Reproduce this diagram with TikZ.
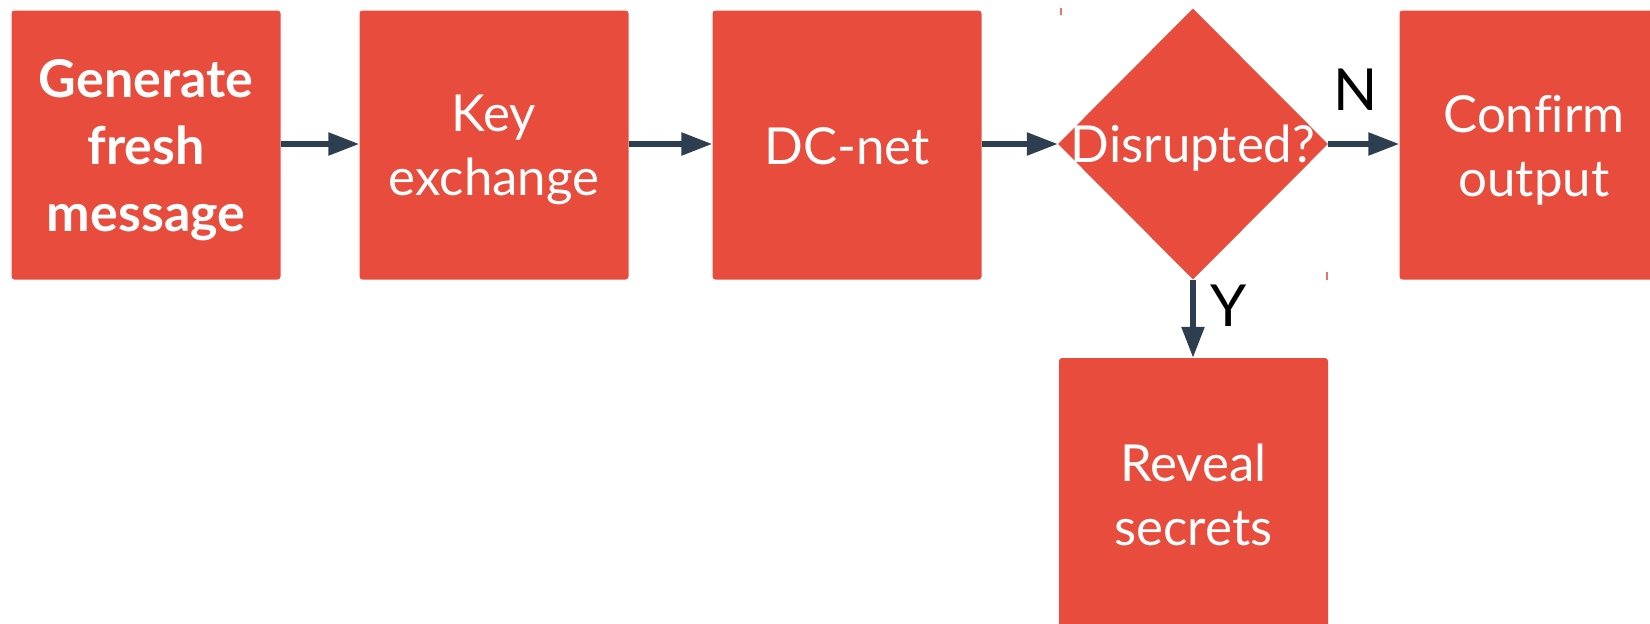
\documentclass[tikz,border=0pt]{standalone}
\usepackage{fontspec}
\setmainfont{Lato}[Ligatures=NoCommon]
\usetikzlibrary{shapes.geometric,arrows.meta}
\definecolor{boxred}{HTML}{E74C3C}
\definecolor{arrowblue}{HTML}{2C3E50}
\tikzset{
  stepbox/.style={fill=boxred, draw=none, rounded corners=3pt, minimum width=269pt,
    minimum height=269pt, inner sep=0pt},
  boxtext/.style={text=white, align=center, inner sep=0pt,
    font=\fontsize{51}{64}\selectfont},
  decision/.style={diamond, fill=boxred, draw=none, minimum width=270pt,
    minimum height=271pt, inner sep=0pt},
  flow/.style={draw=arrowblue, line width=5.5pt,
    -{Triangle[length=31pt,width=22pt]}},
  branch/.style={text=black, font=\fontsize{58}{64}\selectfont},
  tick/.style={draw=boxred!80, line width=1.5pt}
}
\begin{document}
\begin{tikzpicture}[x=1pt,y=-1pt]
  \useasboundingbox (0,0) rectangle (1650,624);
  % process steps
  \node[stepbox] (gen) at (146,145) {};
  \node[stepbox] (key) at (494,145) {};
  \node[stepbox] (dc) at (847,145) {};
  \node[decision] (dis) at (1193,144) {};
  \node[stepbox] (conf) at (1534,145) {};
  \node[stepbox] (rev) at (1193.5,492.5) {};
  % step captions
  \node[boxtext, font=\fontsize{52}{67}\selectfont\bfseries] (gent) at ([yshift=-5pt]gen.center) {Generate\\fresh\\message};
  \node[boxtext] (keyt) at ([yshift=-5pt]key.center) {Key\\exchange};
  \node[boxtext] (dct) at ([yshift=-1pt]dc.center) {DC-net};
  \node[boxtext] (dist) at ([yshift=-4pt]dis.center) {Disrupted?};
  \node[boxtext] (conft) at ([yshift=-5pt]conf.center) {Confirm\\output};
  \node[boxtext] (revt) at ([yshift=-2pt]rev.center) {Reveal\\secrets};
  % corner marks of the decision box
  \coordinate (tl) at (1061,8);
  \coordinate (tlb) at (1061,15);
  \coordinate (br) at (1327,272);
  \coordinate (brb) at (1327,280);
  \draw[tick] (tl) -- (tlb);
  \draw[tick] (br) -- (brb);
  % connectors
  \draw[flow] (gen.east |- dis.west) -- (key.west |- dis.west);
  \draw[flow] (key.east |- dis.west) -- (dc.west |- dis.west);
  \draw[flow] (dc.east |- dis.west) -- (dis.west);
  \draw[flow] (dis.east) -- (conf.west |- dis.east);
  \draw[flow] (dis.south) -- (dis.south |- rev.north);
  % branch labels
  \node[branch] (nlab) at (1356,90) {N};
  \node[branch] (ylab) at (1229,306) {Y};
\end{tikzpicture}
\end{document}
